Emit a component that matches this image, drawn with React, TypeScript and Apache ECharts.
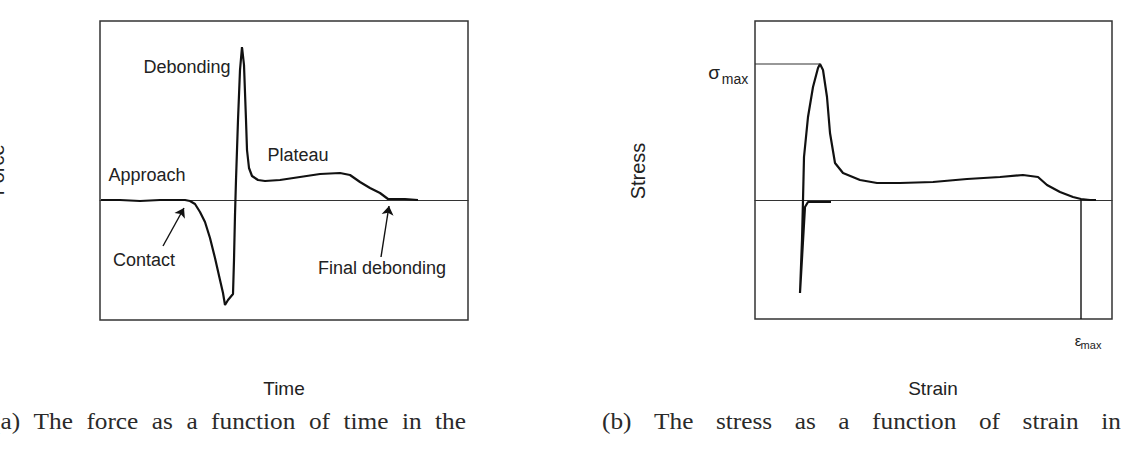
import React, { useEffect, useRef } from "react";
import * as echarts from "echarts";

// ---- Panel (a): force vs time (arbitrary units) ----
const timeValues = [1, 20, 40, 60, 80, 85, 90, 95, 100, 105, 110, 115, 120, 123, 125, 128, 133, 134, 135, 136, 138, 140, 142, 144, 146, 147, 149, 152, 158, 165, 180, 200, 220, 240, 250, 260, 270, 280, 288, 295, 305, 318];
const forceValues = [0, 0, -1, 0, 0, 0, -1, -4, -12, -22, -38, -58, -80, -93, -105, -100, -94, -60, -15, 20, 80, 130, 153, 135, 80, 50, 32, 24, 20, 19, 20, 23, 26, 27, 25, 18, 12, 7, 1, 1, 1, 0];

// ---- Panel (b): stress vs strain (arbitrary units) ----
const strainValues = [76, 53, 50, 45, 47, 48, 49, 53, 58, 63, 65, 68, 72, 75, 80, 88, 105, 122, 145, 178, 212, 245, 268, 283, 292, 305, 318, 326, 335, 341];
const stressValues = [-2, -2, -7, -93, -40, 0, 43, 83, 113, 132, 136, 130, 103, 67, 37, 27, 20, 17, 17, 18, 21, 23, 25, 23, 15, 8, 3, 1, 0, 0];
const epsMax = 326;

const captionA = ["(a)", "The", "force", "as", "a", "function", "of", "time", "in", "the"];
const captionB = ["(b)", "The", "stress", "as", "a", "function", "of", "strain", "in"];

const SANS = '"Liberation Sans", Arial, sans-serif';
const SERIF = '"Liberation Serif", "Times New Roman", serif';
const CAP_SCALE = 1.1;

function justify(words: string[], x0: number, x1: number, y: number, size: number) {
  const ctx = document.createElement("canvas").getContext("2d") as CanvasRenderingContext2D;
  ctx.font = `${size}px ${SERIF}`;
  const widths = words.map((w) => ctx.measureText(w).width * CAP_SCALE);
  const total = widths.reduce((a, b) => a + b, 0);
  const gap = (x1 - x0 - total) / (words.length - 1);
  let x = x0;
  return words.map((w, i) => {
    const el = {
      type: "text",
      x,
      y,
      scaleX: CAP_SCALE,
      style: { text: w, fontFamily: SERIF, fontSize: size, fill: "#2a2a2a", align: "left", verticalAlign: "middle" },
    };
    x += widths[i] + gap;
    return el;
  });
}

function label(text: string, x: number, y: number, size = 18, extra: any = {}) {
  return {
    type: "text",
    x,
    y,
    ...extra,
    style: { text, fontFamily: SANS, fontSize: size, fill: "#222", align: "center", verticalAlign: "middle" },
  };
}

export default function App() {
  const ref = useRef<HTMLDivElement>(null);
  useEffect(() => {
    if (!ref.current) return;
    const chart = echarts.init(ref.current, undefined, { renderer: "svg" });
    const forceData = timeValues.map((t, i) => [t, forceValues[i]]);
    const stressData = strainValues.map((s, i) => [s, stressValues[i]]);
    let peakIdx = 0;
    stressValues.forEach((v, i) => {
      if (v > stressValues[peakIdx]) peakIdx = i;
    });
    const sigmaMax = stressValues[peakIdx];
    const sigmaStrain = strainValues[peakIdx];

    const axisX = (max: number, idx: number) => ({
      type: "value",
      gridIndex: idx,
      min: 0,
      max,
      axisLine: { show: true, onZero: true, lineStyle: { color: "#333", width: 1.2 } },
      axisTick: { show: false },
      axisLabel: { show: false },
      splitLine: { show: false },
    });
    const axisY = (min: number, max: number, idx: number) => ({
      type: "value",
      gridIndex: idx,
      min,
      max,
      axisLine: { show: false },
      axisTick: { show: false },
      axisLabel: { show: false },
      splitLine: { show: false },
    });
    const curveStyle = { color: "#111", width: 2.2 };

    chart.setOption({
      animation: false,
      backgroundColor: "#fff",
      grid: [
        { left: 100, top: 21, width: 368, height: 299, show: true, borderColor: "#333", borderWidth: 1.5 },
        { left: 755, top: 21, width: 357, height: 298, show: true, borderColor: "#333", borderWidth: 1.5 },
      ],
      xAxis: [axisX(368, 0), axisX(357, 1)],
      yAxis: [axisY(-120, 179, 0), axisY(-119, 179, 1)],
      series: [
        {
          type: "line",
          xAxisIndex: 0,
          yAxisIndex: 0,
          data: forceData,
          showSymbol: false,
          lineStyle: curveStyle,
          itemStyle: { color: "#111" },
        },
        {
          type: "lines",
          coordinateSystem: "cartesian2d",
          xAxisIndex: 0,
          yAxisIndex: 0,
          symbol: ["none", "arrow"],
          symbolSize: 9,
          lineStyle: { color: "#111", width: 1.4, opacity: 1 },
          data: [
            { coords: [[63, -46], [84, -8]] },
            { coords: [[281, -57], [289, -6]] },
          ],
        },
        {
          type: "line",
          xAxisIndex: 1,
          yAxisIndex: 1,
          data: stressData,
          showSymbol: false,
          lineStyle: curveStyle,
          itemStyle: { color: "#111" },
        },
        {
          type: "line",
          xAxisIndex: 1,
          yAxisIndex: 1,
          data: [[0, sigmaMax], [sigmaStrain, sigmaMax]],
          showSymbol: false,
          lineStyle: { color: "#333", width: 1.2 },
        },
        {
          type: "line",
          xAxisIndex: 1,
          yAxisIndex: 1,
          data: [[epsMax, 1], [epsMax, -119]],
          showSymbol: false,
          lineStyle: { color: "#111", width: 1.4 },
        },
      ],
      graphic: [
        label("Debonding", 187, 67),
        label("Plateau", 298, 155),
        label("Approach", 147, 175),
        label("Contact", 144, 260),
        label("Final debonding", 382, 268),
        label("Force", -3, 170, 20, { rotation: Math.PI / 2 }),
        label("Stress", 638, 171, 20, { rotation: Math.PI / 2 }),
        label("Time", 284, 388, 19),
        label("Strain", 933, 388, 19),
        label("σ", 714, 72, 19),
        label("max", 735, 79, 14),
        label("ε", 1078, 340, 15),
        label("max", 1091, 345, 11),
        ...justify(captionA, -8, 466, 421, 23),
        ...justify(captionB, 602, 1121, 421, 23),
      ],
    });
    return () => chart.dispose();
  }, []);
  return (
    <div
      ref={ref}
      style={{ position: "fixed", left: 0, top: 0, width: 1124, height: 456, background: "#fff" }}
    />
  );
}
